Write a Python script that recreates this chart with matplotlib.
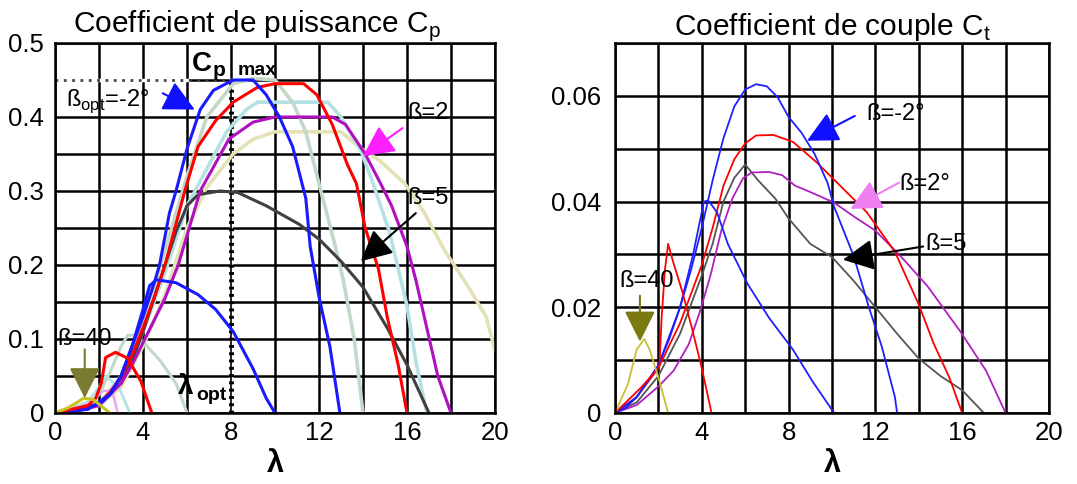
import numpy as np
import matplotlib.pyplot as plt

plt.rcParams['font.family'] = ['Liberation Sans', 'DejaVu Sans']

# ---- Cp (left) : lambda / Cp pairs ----
cp_bm2_l = [0, 1, 2, 2.5, 3, 3.5, 4, 4.5, 4.75, 5.2, 5.5, 6, 6.6, 7.2, 8.1, 9, 9.6, 10.2, 10.8, 11.4, 11.6, 12, 12.5, 12.95]
cp_bm2_v = [0, 0.003, 0.012, 0.025, 0.05, 0.09, 0.13, 0.175, 0.2, 0.27, 0.3, 0.357, 0.41, 0.436, 0.45, 0.45, 0.43, 0.4, 0.36, 0.29, 0.225, 0.157, 0.089, 0]

cp_bm1_l = [0, 1, 2, 3, 3.5, 4, 4.5, 5, 5.5, 6, 6.9, 8.1, 9, 10, 10.8, 11.4, 12, 12.7, 13.1, 13.6, 14]
cp_bm1_v = [0, 0.003, 0.012, 0.05, 0.085, 0.125, 0.17, 0.22, 0.27, 0.32, 0.4, 0.445, 0.452, 0.45, 0.42, 0.38, 0.31, 0.23, 0.18, 0.1, 0]

cp_b0_l = [0, 1, 2, 2.5, 3, 3.5, 4, 4.5, 5, 5.45, 5.9, 6.5, 7.3, 8.1, 9.2, 10, 11.3, 11.9, 12.6, 13.3, 13.7, 14.1, 14.7, 15.1, 15.6, 16]
cp_b0_v = [0, 0.003, 0.013, 0.028, 0.048, 0.078, 0.115, 0.155, 0.2, 0.25, 0.3, 0.36, 0.395, 0.42, 0.44, 0.445, 0.445, 0.43, 0.39, 0.335, 0.31, 0.25, 0.195, 0.13, 0.065, 0]

cp_b1_l = [0, 1, 2, 3, 3.5, 4, 4.5, 5, 5.5, 6, 6.9, 7.8, 8.7, 9.2, 12.4, 13, 13.9, 14.4, 15.2, 16, 16.4, 16.9]
cp_b1_v = [0, 0.003, 0.012, 0.045, 0.075, 0.11, 0.15, 0.19, 0.235, 0.28, 0.33, 0.38, 0.41, 0.42, 0.42, 0.4, 0.355, 0.315, 0.245, 0.145, 0.07, 0]

cp_b2_l = [0, 1, 2, 3, 3.5, 4, 4.5, 5, 5.6, 6.1, 6.6, 7.9, 9, 10, 12.6, 13.2, 14.1, 14.8, 15.3, 16, 16.4, 16.9, 17.4, 18]
cp_b2_v = [0, 0.003, 0.01, 0.04, 0.065, 0.095, 0.125, 0.155, 0.2, 0.25, 0.3, 0.37, 0.393, 0.4, 0.4, 0.39, 0.35, 0.31, 0.28, 0.225, 0.18, 0.115, 0.05, 0]

cp_b3_l = [0, 1, 2, 3, 4, 5, 6, 6.9, 8.1, 9, 10, 13, 13.8, 14.8, 15.9, 16.8, 17.7, 18.8, 19.6, 20]
cp_b3_v = [0, 0.003, 0.01, 0.035, 0.09, 0.16, 0.25, 0.305, 0.35, 0.37, 0.38, 0.38, 0.36, 0.34, 0.31, 0.27, 0.22, 0.17, 0.13, 0.085]

cp_b5_l = [0, 1, 2, 3, 3.5, 4, 4.5, 5, 5.5, 6, 6.5, 7.5, 8.3, 9.6, 11.1, 12, 13, 14, 15.1, 16, 17]
cp_b5_v = [0, 0.003, 0.012, 0.04, 0.07, 0.11, 0.155, 0.2, 0.245, 0.28, 0.295, 0.3, 0.298, 0.28, 0.255, 0.235, 0.205, 0.17, 0.115, 0.065, 0]

cp_b10_l = [0, 1.5, 2.5, 3, 3.5, 4, 4.3, 4.6, 5.5, 6.5, 7.3, 8.1, 9, 9.6, 10]
cp_b10_v = [0, 0.005, 0.025, 0.05, 0.09, 0.14, 0.172, 0.18, 0.176, 0.16, 0.14, 0.11, 0.06, 0.02, 0]

cp_b15_l = [0, 1.5, 2, 2.5, 3, 3.3, 3.7, 4.1, 4.8, 5.5, 6]
cp_b15_v = [0, 0.01, 0.025, 0.055, 0.09, 0.105, 0.105, 0.093, 0.07, 0.04, 0]

cp_b20_l = [0, 1.5, 1.85, 2.1, 2.3, 2.75, 3.3, 3.9, 4.4]
cp_b20_v = [0, 0.01, 0.02, 0.04, 0.075, 0.082, 0.074, 0.043, 0]

cp_b25_l = [0, 1.5, 2, 2.3, 2.9, 3.4]
cp_b25_v = [0, 0.015, 0.035, 0.05, 0.035, 0]

cp_b30_l = [0, 1.5, 2.2, 2.6, 2.85]
cp_b30_v = [0, 0.012, 0.03, 0.03, 0]

cp_b40_l = [0, 0.6, 1.3, 1.75, 2.2, 2.5]
cp_b40_v = [0, 0.007, 0.02, 0.018, 0.007, 0]

# ---- Ct (right) ----
ct_bm2_l = [0, 0.5, 1, 1.5, 2, 2.5, 3, 3.5, 4, 4.5, 5, 5.5, 6, 6.5, 7, 7.5, 8, 8.6, 9.2, 9.8, 10.1, 11, 11.7, 12.3, 12.9, 13]
ct_bm2_v = [0, 0.001, 0.003, 0.006, 0.009, 0.014, 0.02, 0.027, 0.035, 0.044, 0.052, 0.058, 0.0612, 0.0622, 0.0618, 0.0597, 0.056, 0.053, 0.049, 0.0435, 0.039, 0.0297, 0.02, 0.0125, 0.003, 0]

ct_b10_l = [0, 1, 2, 3, 3.6, 4.1, 4.3, 4.7, 5.2, 6.1, 7.1, 8.2, 9.1, 10.1]
ct_b10_v = [0, 0.003, 0.009, 0.02, 0.03, 0.04, 0.0402, 0.038, 0.032, 0.0245, 0.018, 0.012, 0.006, 0]

ct_b0_l = [0, 1, 2, 3, 4, 4.5, 5, 5.5, 6, 6.5, 7.3, 8.2, 9.3, 10.4, 11.6, 12.9, 14, 14.7, 15.4, 16]
ct_b0_v = [0, 0.003, 0.0085, 0.017, 0.028, 0.035, 0.043, 0.048, 0.051, 0.0525, 0.0526, 0.0513, 0.0474, 0.0429, 0.038, 0.0305, 0.0205, 0.013, 0.0068, 0]

ct_b2_l = [0, 1, 2, 2.7, 3.4, 3.9, 4.4, 4.9, 5.4, 5.9, 6.3, 7.1, 7.7, 8.3, 9, 10.1, 11, 12, 13.2, 14.4, 15.9, 17.1, 18]
ct_b2_v = [0, 0.0015, 0.005, 0.008, 0.013, 0.019, 0.026, 0.0345, 0.0405, 0.0444, 0.0455, 0.0456, 0.045, 0.043, 0.0418, 0.0398, 0.0372, 0.0345, 0.0295, 0.024, 0.0155, 0.008, 0]

ct_b5_l = [0, 1, 2, 3, 4, 4.5, 5, 5.5, 6, 6.6, 7.4, 8, 9, 10, 11, 12, 13, 14, 15, 16, 17]
ct_b5_v = [0, 0.002, 0.007, 0.015, 0.026, 0.032, 0.04, 0.0445, 0.047, 0.044, 0.0405, 0.0368, 0.032, 0.0295, 0.025, 0.02, 0.015, 0.0103, 0.007, 0.0043, 0]

ct_b20_l = [0, 1.2, 1.9, 2.05, 2.15, 2.3, 2.45, 2.65, 3.1, 3.55, 4, 4.45]
ct_b20_v = [0, 0.0048, 0.008, 0.009, 0.018, 0.027, 0.032, 0.029, 0.023, 0.016, 0.0085, 0]

ct_b40_l = [0, 0.6, 1.0, 1.35, 1.6, 2.05, 2.45]
ct_b40_v = [0, 0.0055, 0.012, 0.014, 0.012, 0.006, 0]

fig = plt.figure(figsize=(10.77, 4.84), dpi=100)
ax1 = fig.add_axes([0.0511, 0.1467, 0.4085, 0.7645])
ax2 = fig.add_axes([0.5710, 0.1467, 0.4030, 0.7645])

def setup(ax, ymax, ystep, ylabstep, fmt, top_label):
    ax.set_xlim(0, 20)
    ax.set_ylim(0, ymax)
    xt = np.arange(0, 21, 2)
    ax.set_xticks(xt)
    ax.set_xticklabels([str(int(v)) if v % 4 == 0 else '' for v in xt])
    yt = np.arange(0, ymax + ystep / 2, ystep)
    ax.set_yticks(yt)
    lab = []
    for v in yt:
        k = v / ylabstep
        if abs(k - round(k)) < 1e-6 and (top_label or v < ymax - 1e-9):
            lab.append('0' if v == 0 else fmt % v)
        else:
            lab.append('')
    ax.set_yticklabels(lab)
    ax.tick_params(length=0, labelsize=18.5, pad=6)
    ax.grid(True, color='black', lw=1.8)
    ax.set_axisbelow(True)
    for s in ax.spines.values():
        s.set_linewidth(1.8)
    ax.set_xlabel('λ', fontsize=22, fontweight='bold', labelpad=3)

setup(ax1, 0.5, 0.05, 0.1, '%.1f', True)
setup(ax2, 0.07, 0.01, 0.02, '%.2f', False)
ax1.tick_params(axis='y', pad=8)
ax2.tick_params(axis='y', pad=10)

ax1.set_title('Coefficient de puissance C$_\\mathregular{p}$', fontsize=21.5, pad=5, x=0.46)
ax2.set_title('Coefficient de couple C$_\\mathregular{t}$', fontsize=21.5, pad=5)

# Cp max / lambda opt markers
ax1.plot([0, 6], [0.45, 0.45], color='white', lw=2.5, zorder=1.5)
ax1.plot([0, 8.5], [0.45, 0.45], color='#444444', lw=2, ls=(0, (1, 2)), zorder=1.6)
ax1.plot([8, 8], [0, 0.45], color='white', lw=2.5, zorder=1.5)
ax1.plot([8, 8], [0, 0.45], color='black', lw=3.5, ls=(0, (0.6, 0.9)), zorder=1.6)
ax1.plot([8, 8], [0, 0.45], color='black', lw=1.2, zorder=1.6)

lw1 = 2.2
ax1.plot(cp_b3_l, cp_b3_v, color='#e4e2b4', lw=2.6)
ax1.plot(cp_b1_l, cp_b1_v, color='#b4e2e2', lw=2.6)
ax1.plot(cp_bm1_l, cp_bm1_v, color='#c4d8c8', lw=2.6)
ax1.plot(cp_b15_l, cp_b15_v, color='#c4d8c8', lw=2.2)
ax1.plot(cp_b25_l, cp_b25_v, color='#b4e2e2', lw=2.0)
ax1.plot(cp_b30_l, cp_b30_v, color='#e8a8e8', lw=1.8)
ax1.plot(cp_b5_l, cp_b5_v, color='#404040', lw=lw1)
ax1.plot(cp_b2_l, cp_b2_v, color='#b010c0', lw=lw1)
ax1.plot(cp_b0_l, cp_b0_v, color='red', lw=lw1)
ax1.plot(cp_b10_l, cp_b10_v, color='#1a1aff', lw=lw1)
ax1.plot(cp_bm2_l, cp_bm2_v, color='#1a1aff', lw=lw1)
ax1.plot(cp_b20_l, cp_b20_v, color='red', lw=lw1)
ax1.plot(cp_b40_l, cp_b40_v, color='#c8c020', lw=lw1)

lw2 = 1.3
ax2.plot(ct_b5_l, ct_b5_v, color='#555555', lw=lw2)
ax2.plot(ct_b2_l, ct_b2_v, color='#b020c0', lw=lw2)
ax2.plot(ct_b0_l, ct_b0_v, color='red', lw=lw2)
ax2.plot(ct_b10_l, ct_b10_v, color='#2020ff', lw=lw2)
ax2.plot(ct_bm2_l, ct_bm2_v, color='#2020ff', lw=lw2)
ax2.plot(ct_b20_l, ct_b20_v, color='red', lw=lw2)
ax2.plot(ct_b40_l, ct_b40_v, color='#c8c030', lw=lw2)

def arrow(ax, tail, head, col):
    ax.annotate('', xy=head, xytext=tail,
                arrowprops=dict(arrowstyle='-|>,head_length=1.2,head_width=0.6',
                                mutation_scale=16, color=col, lw=1.5, shrinkA=0, shrinkB=0),
                zorder=5)

# left annotations
ax1.text(6.2, 0.454, 'C', fontsize=20, fontweight='bold', va='bottom')
ax1.text(7.15, 0.450, 'p', fontsize=15, fontweight='bold', va='bottom')
ax1.text(8.3, 0.452, 'max', fontsize=14, fontweight='bold', va='bottom')
ax1.text(0.5, 0.422, 'ß$_\\mathregular{opt}$=-2°', fontsize=17, va='center')
arrow(ax1, (4.9, 0.432), (6.35, 0.41), '#1010ff')
ax1.text(16.0, 0.405, 'ß=2', fontsize=17, va='center')
arrow(ax1, (15.8, 0.385), (14.0, 0.347), '#ff20ff')
ax1.text(16.0, 0.29, 'ß=5', fontsize=17, va='center')
arrow(ax1, (16.4, 0.27), (13.9, 0.205), 'black')
ax1.text(0.1, 0.1, 'ß=40', fontsize=17, va='center')
arrow(ax1, (1.35, 0.086), (1.35, 0.02), '#7a7a30')
ax1.text(5.6, 0.035, 'λ', fontsize=20, fontweight='bold', va='center')
ax1.text(6.4, 0.024, 'opt', fontsize=14, fontweight='bold', va='center')

# right annotations
ax2.text(11.6, 0.0565, 'ß=-2°', fontsize=17, va='center')
arrow(ax2, (11.05, 0.0562), (8.85, 0.0515), '#1010ff')
ax2.text(13.1, 0.0433, 'ß=2°', fontsize=17, va='center')
arrow(ax2, (13.1, 0.0436), (10.85, 0.0386), '#f080f0')
ax2.text(14.3, 0.032, 'ß=5', fontsize=17, va='center')
arrow(ax2, (14.2, 0.0315), (10.5, 0.029), 'black')
ax2.text(0.2, 0.025, 'ß=40', fontsize=17, va='center')
arrow(ax2, (1.15, 0.0222), (1.15, 0.0135), '#7a7a10')

fig.savefig('out.png', dpi=100)
